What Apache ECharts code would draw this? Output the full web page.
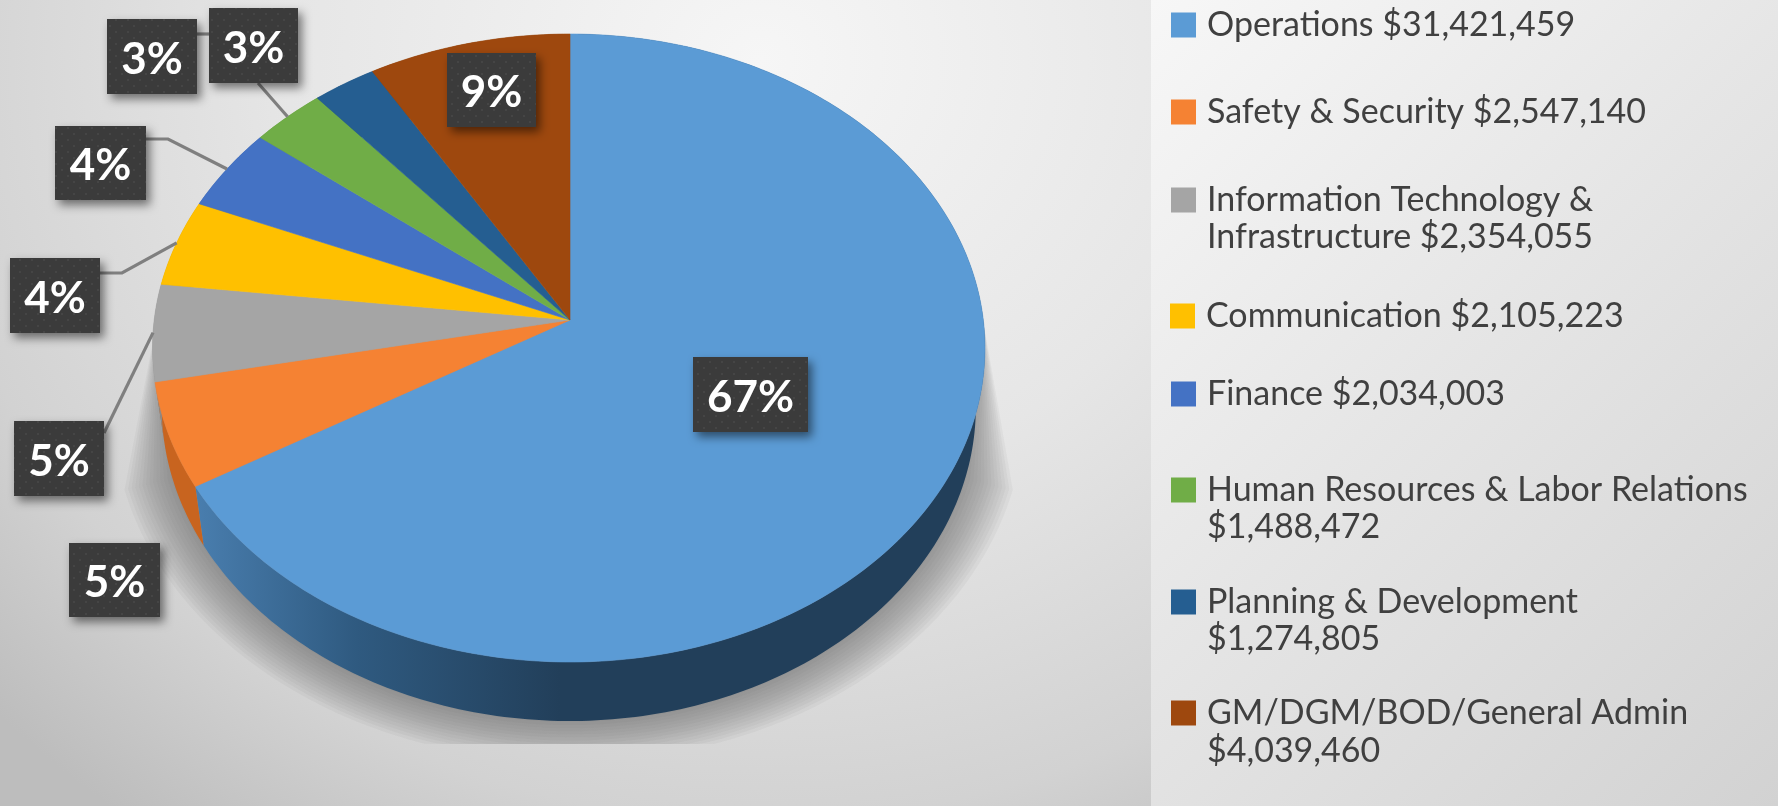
<!DOCTYPE html>
<html>
<head>
<meta charset="utf-8">
<style>
html,body{margin:0;padding:0;width:1778px;height:806px;overflow:hidden}
#main{width:1778px;height:806px;
background:
 linear-gradient(135deg,#f7f7f7 0%,#e6e6e6 45%,#d2d2d2 100%) 1151px 0/627px 806px no-repeat,
 radial-gradient(ellipse 1050px 950px at 760px 60px,#f6f6f6 0%,#e6e6e6 45%,#d2d2d2 80%,#bdbdbd 100%);}
</style>
<script src="https://cdn.jsdelivr.net/npm/echarts@6/dist/echarts.min.js"></script>
</head>
<body>
<div id="main"></div>
<script>
// ---- data ----
const categories = ['Operations','Safety & Security','Information Technology & Infrastructure','Communication','Finance','Human Resources & Labor Relations','Planning & Development','GM/DGM/BOD/General Admin'];
const amounts = [31421459,2547140,2354055,2105223,2034003,1488472,1274805,4039460];
const percentLabels = ['67%','5%','5%','4%','4%','3%','3%','9%'];
const legendFirstLines = ['Operations $31,421,459','Safety & Security $2,547,140','Information Technology &','Communication $2,105,223','Finance $2,034,003','Human Resources & Labor Relations','Planning & Development','GM/DGM/BOD/General Admin'];
const legendSecondLines = ['','','Infrastructure $2,354,055','','','$1,488,472','$1,274,805','$4,039,460'];
const sliceColors = ['#5b9bd5','#f58233','#a5a5a5','#ffc000','#4472c4','#70ad47','#255e91','#9e480e'];

// ---- layout (not data) ----
const legendTops = [8,95,183,299,377,473,585,696];
const legendLefts = [1171,1171,1171,1170,1171,1171,1171,1171];
const secondLineY = [0,0,239,0,0,529,641,753];
// callout boxes: x, y, w, h
const calloutBoxes = [[693,357,115,75],[69,543,91,74],[14,421,90,75],[10,258,90,75],[55,126,91,74],[209,8,89,75],[107,19,90,75],[447,53,89,74]];
// leader start points (from the box to the slice rim); empty = no leader
const leaderStarts = [null,null,[[104,433]],[[100,273],[122,273]],[[146,139],[168,139]],[[258,83]],null,null];

// projected (tilted) pie geometry
const CX=570, CY=320, A=413.3, B=311.5, K=0.0892, DEPTH=59, LOWER=0.978, SHADOW_CUT=744, LEFT_STRETCH=1.006;
const rad=d=>d*Math.PI/180;
function rim(theta,s){ s=s||1; const u=Math.sin(rad(theta)),v=-Math.cos(rad(theta)),w=1-K*v; return [A*u/w*s*(u<0?LEFT_STRETCH:1),B*v/w*s]; }
const topPt=(t)=>{const p=rim(t);return [CX+p[0],CY+p[1]];};
const lowPt=(t)=>{const p=rim(t);return [CX+LOWER*p[0],CY+p[1]+DEPTH];};

const total=amounts.reduce((a,b)=>a+b,0);
const startAngles=[];let acc=0;
amounts.forEach(v=>{startAngles.push(acc/total*360);acc+=v;});
function arc(a0,a1,f){const pts=[];const n=Math.max(2,Math.ceil((a1-a0)));for(let i=0;i<=n;i++)pts.push(f(a0+(a1-a0)*i/n));return pts;}

// dotted texture for callouts
const tex=document.createElement('canvas');tex.width=12;tex.height=12;
(function(){const c=tex.getContext('2d');c.fillStyle='#3b3b3b';c.fillRect(0,0,12,12);c.fillStyle='#4a4a4a';
[[2,2],[8,8]].forEach(p=>{c.beginPath();c.arc(p[0],p[1],1,0,7);c.fill();});})();

const opsSide=new echarts.graphic.LinearGradient(190,0,560,0,[{offset:0,color:'#4a7fb0'},{offset:.45,color:'#2f5a80'},{offset:1,color:'#223f5a'}],true);
const sideColors=[opsSide,'#c8641f','#8a8a8a','#bf9000','#335593','#54823a','#1b466c','#763509'];

const series=[];
// soft shadow behind the pie
series.push({type:'custom',name:'shadow',coordinateSystem:'none',silent:true,z:1,data:[0],
 renderItem(){
  const kids=[];
  for(let i=0;i<14;i++){
   const s=1.12-i*0.009;
   const pts=[[CX+413,CY]];
   arc(108,252,t=>t).forEach(t=>{const p=rim(t,s);pts.push([CX+LOWER*p[0],Math.min(CY+p[1]+DEPTH,SHADOW_CUT)]);});
   pts.push([CX-413,CY]);
   kids.push({type:'polygon',shape:{points:pts},style:{fill:'rgba(90,90,90,0.055)'}});
  }
  return {type:'group',children:kids};
 }});
// side wall
series.push({type:'custom',name:'side',coordinateSystem:'none',silent:true,z:2,data:amounts.map((v,i)=>[i]),
 renderItem(p,api){
  const i=api.value(0);const a0=startAngles[i],a1=a0+amounts[i]/total*360;
  const pts=arc(a0,a1,topPt).concat(arc(a0,a1,lowPt).reverse());
  return {type:'polygon',shape:{points:pts},style:{fill:sideColors[i]}};
 }});
// top face: one series per category so that the legends bind to them
categories.forEach((name,i)=>{
 series.push({type:'custom',name,coordinateSystem:'none',silent:true,z:3,
  itemStyle:{color:sliceColors[i]},data:[[amounts[i]]],
  renderItem(p,api){
   const a0=startAngles[i],a1=a0+api.value(0)/total*360;
   const pts=[[CX,CY]].concat(arc(a0,a1,topPt));
   return {type:'polygon',shape:{points:pts},style:{fill:sliceColors[i],stroke:sliceColors[i],lineWidth:.6}};
  }});
});
// leaders
series.push({type:'custom',name:'leaders',coordinateSystem:'none',silent:true,z:4,data:amounts.map((v,i)=>[i]),
 renderItem(p,api){
  const i=api.value(0);if(!leaderStarts[i])return null;
  const mid=startAngles[i]+amounts[i]/total*180;
  return {type:'polyline',shape:{points:leaderStarts[i].concat([topPt(mid)])},style:{fill:null,stroke:'#7f7f7f',lineWidth:3.2}};
 }});
series.push({type:'custom',name:'leaderLink',coordinateSystem:'none',silent:true,z:4,data:[0],
 renderItem(){return {type:'polyline',shape:{points:[[197,34],[215,34]]},style:{fill:null,stroke:'#7f7f7f',lineWidth:3.2}};}});
// callouts
series.push({type:'custom',name:'callouts',coordinateSystem:'none',silent:true,z:5,data:percentLabels.map((t,i)=>[i]),
 renderItem(p,api){
  const i=api.value(0),b=calloutBoxes[i];
  return {type:'group',children:[
   {type:'rect',shape:{x:b[0],y:b[1],width:b[2],height:b[3]},
    style:{fill:{image:tex,repeat:'repeat'},shadowBlur:10,shadowOffsetX:4,shadowOffsetY:5,shadowColor:'rgba(0,0,0,0.5)'}},
   {type:'text',style:{x:b[0]+b[2]/2,y:b[1]+b[3]/2+3,text:percentLabels[i],align:'center',verticalAlign:'middle',
     fill:'#fff',font:'700 44px Lato'}}
  ]};
 }});

const legends=categories.map((name,i)=>({
 left:legendLefts[i],top:legendTops[i],padding:0,itemWidth:25,itemHeight:25,itemGap:0,icon:'rect',selectedMode:false,
 data:[{name,icon:'rect',itemStyle:{color:sliceColors[i]}}],
 formatter:()=>legendFirstLines[i],
 textStyle:{fontFamily:'Lato',fontSize:34,color:'#404040',lineHeight:25,padding:[0,0,0,6]}
}));
const graphics=legendSecondLines.map((t,i)=>t?{type:'text',left:1207,top:secondLineY[i]-19,silent:true,
 style:{text:t,font:'34px Lato',fill:'#404040'}}:null).filter(Boolean);

const chart=echarts.init(document.getElementById('main'),null,{renderer:'canvas'});
chart.setOption({animation:false,backgroundColor:'transparent',legend:legends,graphic:graphics,series});
</script>
</body>
</html>
